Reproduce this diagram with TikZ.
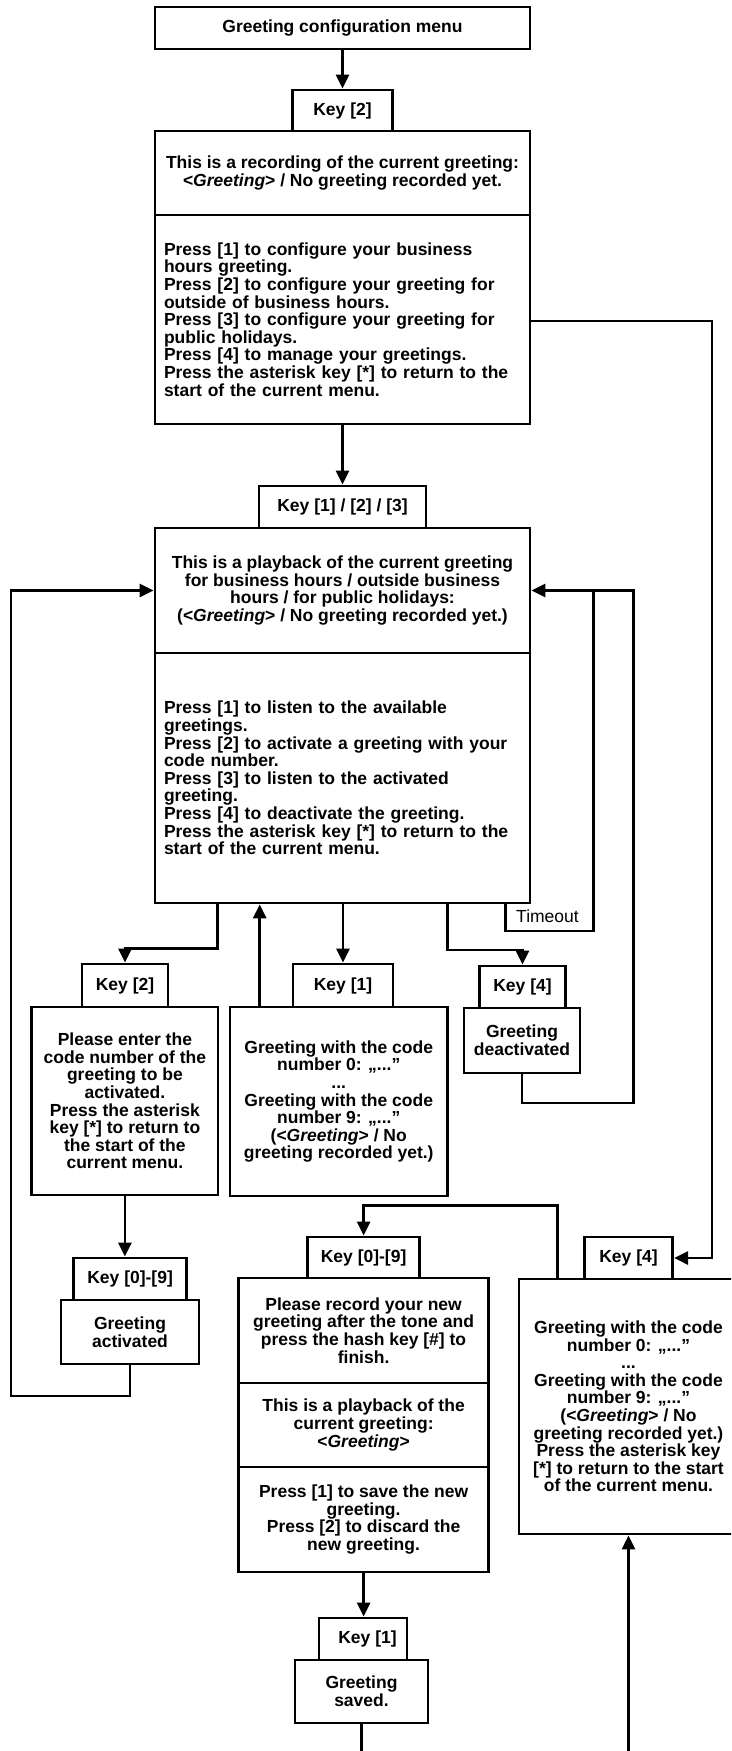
\documentclass[tikz,border=0pt]{standalone}
\usepackage{fontspec}
\setmainfont{Liberation Sans}
\usetikzlibrary{arrows.meta}
\begin{document}
\begin{tikzpicture}[x=1pt,y=1pt,
  every node/.style={font=\fontsize{17.5}{17.6}\selectfont\bfseries},
  box/.style={draw, line width=2.8pt, inner sep=0pt, align=center, fill=white},
  leftbox/.style={draw, line width=2.8pt, inner xsep=9pt, inner ysep=0pt,
    text width=357pt, align=left, fill=white},
  link/.style={line width=2.8pt},
  arr/.style={line width=2.8pt, -{Triangle[length=14pt,width=13pt]}},
  plain/.style={font=\fontsize{17.5}{17.6}\selectfont\mdseries}
]
\useasboundingbox (0,0) rectangle (731,-1751);
\clip (0,0) rectangle (731,-1751);
\fill[white] (0,0) rectangle (731,-1751);

% rails used by the long return paths
\coordinate (railR) at (712,0);
\coordinate (railL) at (11,-1396);
\coordinate (railD) at (633.5,-1103);
\coordinate (tmoR) at (593.3,-931);
\coordinate (upx) at (259.7,0);
\coordinate (botA) at (361.5,-1765);
\coordinate (botB) at (628.5,-1765);

% main menu
\node[box, minimum width=375pt, minimum height=42pt] (top) at (342.5,-28) {Greeting configuration menu};
\node[box, minimum width=100pt, minimum height=41pt] (k2) at (342.5,-110.5) {Key [2]};
\node[box, minimum width=375pt, minimum height=84pt] (b1a) at (342.5,-173)
  {This is a recording of the current greeting:\\ <\textit{Greeting}> / No greeting recorded yet.};
\node[leftbox, minimum height=209pt] (b1b) at (342.5,-319.5)
  {Press [1] to configure your business\\ hours greeting.\\ Press [2] to configure your greeting for\\
   outside of business hours.\\ Press [3] to configure your greeting for\\ public holidays.\\
   Press [4] to manage your greetings.\\ Press the asterisk key [*] to return to the\\ start of the current menu.};

% greeting submenu
\node[box, minimum width=167pt, minimum height=42pt] (k123) at (342.5,-507) {Key [1] / [2] / [3]};
\node[box, minimum width=375pt, minimum height=125pt] (b2a) at (342.5,-590.5)
  {This is a playback of the current greeting\\ for business hours / outside business\\
   hours / for public holidays:\\ (<\textit{Greeting}> / No greeting recorded yet.)};
\node[leftbox, minimum height=250pt] (b2b) at (342.5,-778)
  {Press [1] to listen to the available\\ greetings.\\ Press [2] to activate a greeting with your\\
   code number.\\ Press [3] to listen to the activated\\ greeting.\\ Press [4] to deactivate the greeting.\\
   Press the asterisk key [*] to return to the\\ start of the current menu.};

% branches below the submenu
\node[box, minimum width=86pt, minimum height=43pt] (kb2) at (125,-985.5) {Key [2]};
\node[box, minimum width=186.3pt, minimum height=188pt] (enter) at (124.9,-1101)
  {Please enter the\\ code number of the\\ greeting to be\\ activated.\\ Press the asterisk\\
   key [*] to return to\\ the start of the\\ current menu.};
\node[box, minimum width=100pt, minimum height=43pt] (kb1) at (343,-985.5) {Key [1]};
\node[box, minimum width=217.5pt, minimum height=189pt] (list) at (338.75,-1101.5)
  {Greeting with the code\\ number 0: „..."\\ ...\\ Greeting with the code\\ number 9: „..."\\
   (<\textit{Greeting}> / No\\ greeting recorded yet.)};
\node[box, minimum width=86.4pt, minimum height=42pt] (kb4) at (522.5,-987) {Key [4]};
\node[box, minimum width=116pt, minimum height=65pt] (deact) at (522,-1040.5) {Greeting\\ deactivated};

\node[box, minimum width=112.8pt, minimum height=42pt] (k09a) at (130.1,-1279) {Key [0]-[9]};
\node[box, minimum width=138pt, minimum height=64pt] (act) at (130,-1332) {Greeting\\ activated};

% recording branch
\node[box, minimum width=112pt, minimum height=41pt] (k09b) at (363.6,-1257.5) {Key [0]-[9]};
\node[box, minimum width=249.8pt, minimum height=105pt] (rec1) at (363.6,-1330.5)
  {Please record your new\\ greeting after the tone and\\ press the hash key [\#] to\\ finish.};
\node[box, minimum width=249.8pt, minimum height=84pt] (rec2) at (363.6,-1425)
  {This is a playback of the\\ current greeting:\\ <\textit{Greeting}>};
\node[box, minimum width=249.8pt, minimum height=105pt] (rec3) at (363.6,-1519.5)
  {Press [1] to save the new\\ greeting.\\ Press [2] to discard the\\ new greeting.};
\node[box, minimum width=88pt, minimum height=42pt] (kb1b) at (363,-1639) {\hspace*{9pt}Key [1]};
\node[box, minimum width=133pt, minimum height=63pt] (saved) at (361.5,-1691.5) {Greeting\\ saved.};

% manage branch
\node[box, minimum width=88.4pt, minimum height=42pt] (k4r) at (628.5,-1258) {Key [4]};
\node[box, minimum width=219pt, minimum height=255pt] (listr) at (628.5,-1406.5)
  {Greeting with the code\\ number 0: „..."\\ ...\\ Greeting with the code\\ number 9: „..."\\
   (<\textit{Greeting}> / No\\ greeting recorded yet.)\\ Press the asterisk key\\
   {[*]} to return to the start\\ of the current menu.};

\node[plain] (tmo) at (547.5,-916) {Timeout};

% connectors
\draw[arr] (top.south) -- (top.south |- k2.north);
\draw[arr] (b1b.south) -- (k123.north);
\draw[arr] ([yshift=-1.5pt]b1b.east) -- ([yshift=-1.5pt]b1b.east -| railR) |- (k4r.east);

\draw[arr] ([xshift=-124.8pt]b2b.south) -- ++(0,-44) -| (kb2.north);
\draw[arr] (upx |- list.north) -- (upx |- b2b.south);
\draw[arr] (b2b.south -| kb1.north) -- (kb1.north);
\draw[arr] ([xshift=105pt]b2b.south) -- ++(0,-45.5) -| (kb4.north);
\draw[link] ([xshift=163.2pt]b2b.south) |- (tmoR) -- (tmoR |- b2a.east);

\draw[arr] (deact.south) |- (railD) |- (b2a.east);
\draw[arr] (act.south) |- (railL) |- (b2a.west);

\draw[arr] (enter.south) -- (enter.south |- k09a.north);
\draw[arr] ([xshift=-70.8pt]listr.north) -- ++(0,72.5) -| (k09b.north);
\draw[arr] (rec3.south) -- (rec3.south |- kb1b.north);
\draw[link] (saved.south) -- (botA);
\draw[arr] (botB) -- (listr.south);
\end{tikzpicture}
\end{document}
